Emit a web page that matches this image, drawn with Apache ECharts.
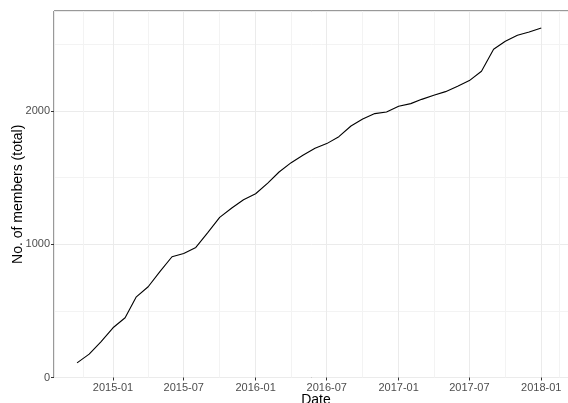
<!DOCTYPE html>
<html>
<head>
<meta charset="utf-8">
<script src="https://cdn.jsdelivr.net/npm/echarts@6/dist/echarts.min.js"></script>
<style>
  html, body { margin: 0; padding: 0; background: #fff; }
  #chart { width: 568px; height: 403px; }
</style>
</head>
<body>
<div id="chart"></div>
<script>
const dates = [
  '2014-10-01', '2014-11-01', '2014-12-01',
  '2015-01-01', '2015-02-01', '2015-03-01', '2015-04-01', '2015-05-01', '2015-06-01',
  '2015-07-01', '2015-08-01', '2015-09-01', '2015-10-01', '2015-11-01', '2015-12-01',
  '2016-01-01', '2016-02-01', '2016-03-01', '2016-04-01', '2016-05-01', '2016-06-01',
  '2016-07-01', '2016-08-01', '2016-09-01', '2016-10-01', '2016-11-01', '2016-12-01',
  '2017-01-01', '2017-02-01', '2017-03-01', '2017-04-01', '2017-05-01', '2017-06-01',
  '2017-07-01', '2017-08-01', '2017-09-01', '2017-10-01', '2017-11-01', '2017-12-01',
  '2018-01-01'
]
const members = [
  110, 175, 268,
  373, 448, 603, 681, 794, 906,
  931, 976, 1089, 1201, 1272, 1334,
  1379, 1459, 1542, 1612, 1667, 1720,
  1755, 1807, 1887, 1940, 1980, 1992,
  2035, 2055, 2087, 2118, 2145, 2185,
  2228, 2298, 2463, 2523, 2568, 2593,
  2623
]
const yTicks = [0, 1000, 2000]

const font = "'Liberation Sans', Arial, sans-serif"
const chart = echarts.init(document.getElementById('chart'))

chart.setOption({
  animation: false,
  grid: {
    left: 54,
    top: 11,
    right: -10,
    bottom: 25.5,
    show: true,
    borderColor: '#333',
    borderWidth: 1,
    containLabel: false,
    outerBoundsMode: 'none'
  },
  xAxis: {
    type: 'time',
    min: '2014-08-03',
    max: '2018-04-05',
    splitNumber: 7,
    name: 'Date',
    nameLocation: 'middle',
    nameGap: 16,
    nameMoveOverlap: false,
    nameTextStyle: { fontFamily: font, fontSize: 14, color: '#000' },
    axisLine: { show: false },
    axisTick: { show: true, length: 3, lineStyle: { color: '#333' } },
    axisLabel: {
      fontFamily: font, fontSize: 11, color: '#4d4d4d', margin: 5,
      showMinLabel: false, showMaxLabel: false,
      formatter: v => echarts.time.format(v, '{yyyy}-{MM}', false)
    },
    splitLine: { show: true, lineStyle: { color: '#ebebeb', width: 1 } },
    minorTick: { show: false, splitNumber: 2 },
    minorSplitLine: { show: true, lineStyle: { color: '#f3f3f3', width: 1 } }
  },
  yAxis: [
    {
      type: 'value',
      min: 0,
      max: 2750,
      interval: 1000,
      name: 'No. of members (total)',
      nameLocation: 'middle',
      nameGap: 29,
      nameMoveOverlap: false,
      nameTextStyle: { fontFamily: font, fontSize: 14, color: '#000' },
      axisLine: { show: false },
      axisTick: { show: true, length: 3, lineStyle: { color: '#333' } },
      axisLabel: {
        fontFamily: font, fontSize: 11, color: '#4d4d4d', margin: 4,
        showMaxLabel: false,
        formatter: v => yTicks.includes(v) ? String(v) : ''
      },
      splitLine: { show: true, lineStyle: { color: '#ebebeb', width: 1 } }
    },
    {
      type: 'value',
      min: 0,
      max: 2750,
      interval: 500,
      axisLine: { show: false },
      axisTick: { show: false },
      axisLabel: { show: false },
      splitLine: { show: true, lineStyle: { color: ['rgba(0,0,0,0)', '#f3f3f3'], width: 1 } }
    }
  ],
  series: [
    {
      type: 'line',
      data: dates.map((d, i) => [d, members[i]]),
      showSymbol: false,
      lineStyle: { color: '#000', width: 1.1 }
    }
  ]
})
</script>
</body>
</html>
